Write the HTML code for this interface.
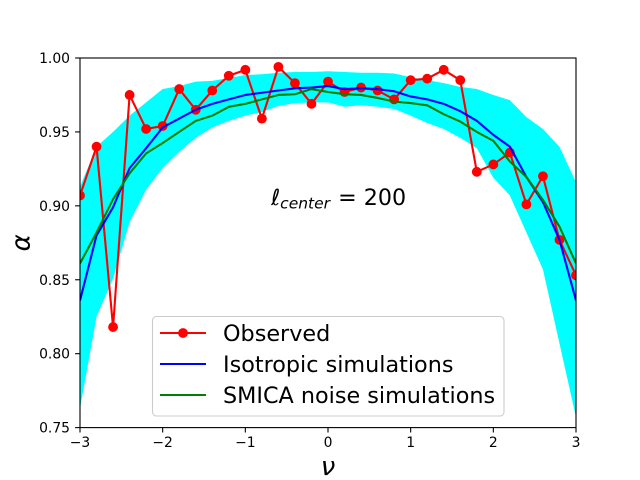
<!DOCTYPE html>
<html>
<head>
<meta charset="utf-8">
<style>
html,body{margin:0;padding:0;background:#fff;}
svg{display:block;font-family:"DejaVu Sans","Liberation Sans",sans-serif;}
</style>
</head>
<body>
<svg id="chart" xmlns="http://www.w3.org/2000/svg" width="640" height="480" viewBox="0 0 640 480">
<defs><clipPath id="plot-clip"><rect x="80" y="58" width="496" height="369.6"/></clipPath></defs>
<rect x="0" y="0" width="640" height="480" fill="#fff"/>
<g id="marks" clip-path="url(#plot-clip)"></g>
<g id="axes"></g>
<text x="328" y="475" font-size="26" font-style="italic" text-anchor="middle" fill="#000">ν</text>
<text transform="translate(29.5,242.8) rotate(-90)" font-size="26" font-style="italic" text-anchor="middle" fill="#000">α</text>
<text x="271" y="205" font-size="22.2" fill="#000"><tspan font-style="italic">ℓ</tspan><tspan font-style="italic" font-size="15.5" dy="3.5">center</tspan><tspan dy="-3.5" dx="1" xml:space="preserve"> = 200</tspan></text>
<g>
<rect x="152.5" y="316.5" width="351.5" height="99.5" rx="4" ry="4" fill="#fff" fill-opacity="0.8" stroke="#ccc" stroke-width="1.1"/>
<line x1="160" y1="333" x2="206" y2="333" stroke="#f00" stroke-width="2.1"/>
<circle cx="183" cy="333" r="4.9" fill="#f00"/>
<text x="223" y="341" font-size="22.3" fill="#000">Observed</text>
<line x1="160" y1="364" x2="206" y2="364" stroke="#00f" stroke-width="2.1"/>
<text x="223" y="372" font-size="22.3" fill="#000">Isotropic simulations</text>
<line x1="160" y1="395" x2="206" y2="395" stroke="#008000" stroke-width="2.1"/>
<text x="223" y="403" font-size="22.3" fill="#000">SMICA noise simulations</text>
</g>
</svg>
<script>
const nu = [-3,-2.8,-2.6,-2.4,-2.2,-2,-1.8,-1.6,-1.4,-1.2,-1,-0.8,-0.6,-0.4,-0.2,0,0.2,0.4,0.6,0.8,1,1.2,1.4,1.6,1.8,2,2.2,2.4,2.6,2.8,3];
const observed = [0.907,0.940,0.818,0.975,0.952,0.954,0.979,0.965,0.978,0.988,0.992,0.959,0.994,0.983,0.969,0.984,0.977,0.980,0.978,0.972,0.985,0.986,0.992,0.985,0.923,0.928,0.936,0.901,0.920,0.877,0.853];
const isotropic = [0.836,0.880,0.899,0.9255,0.939,0.953,0.959,0.965,0.969,0.972,0.975,0.9765,0.978,0.9795,0.980,0.981,0.979,0.9795,0.979,0.9775,0.974,0.972,0.969,0.964,0.9575,0.948,0.940,0.9195,0.9025,0.877,0.836];
const smica = [0.861,0.882,0.9045,0.922,0.9355,0.9425,0.950,0.9575,0.961,0.967,0.969,0.972,0.975,0.9755,0.979,0.977,0.9755,0.975,0.973,0.9705,0.9695,0.968,0.962,0.957,0.950,0.944,0.930,0.9195,0.904,0.886,0.861];
const bandUpper = [0.913,0.940,0.950,0.961,0.970,0.979,0.981,0.984,0.9845,0.9865,0.9885,0.989,0.990,0.9905,0.9905,0.991,0.9905,0.990,0.990,0.9895,0.987,0.985,0.983,0.9805,0.979,0.975,0.9715,0.960,0.952,0.940,0.916];
const bandLower = [0.763,0.825,0.851,0.889,0.911,0.9255,0.9365,0.946,0.953,0.9575,0.961,0.9635,0.9675,0.9695,0.970,0.970,0.967,0.968,0.967,0.9655,0.961,0.956,0.952,0.946,0.939,0.919,0.907,0.882,0.857,0.807,0.757];
const xTicks = [-3,-2,-1,0,1,2,3];
const xTickLabels = ["−3","−2","−1","0","1","2","3"];
const yTicks = [0.75,0.80,0.85,0.90,0.95,1.00];
const yTickLabels = ["0.75","0.80","0.85","0.90","0.95","1.00"];

const NS = "http://www.w3.org/2000/svg";
const xScale = v => 80 + (v + 3) / 6 * 496;
const yScale = v => 58 + (1 - v) / 0.25 * 369.6;
const make = (tag, attrs) => {
  const el = document.createElementNS(NS, tag);
  for (const k in attrs) el.setAttribute(k, attrs[k]);
  return el;
};
const marks = document.getElementById("marks");
const axes = document.getElementById("axes");
const pts = ys => nu.map((n, i) => xScale(n).toFixed(2) + "," + yScale(ys[i]).toFixed(2));

const band = make("polygon", {points: pts(bandUpper).concat(pts(bandLower).reverse()).join(" "), fill: "#00ffff"});


marks.appendChild(band);

const obsLine = make("polyline", {points: pts(observed).join(" "), fill: "none", stroke: "#f00", "stroke-width": 2.1, "stroke-linejoin": "round"});


marks.appendChild(obsLine);

observed.forEach((v, i) => {
  const c = make("circle", {cx: xScale(nu[i]), cy: yScale(v), r: 4.9, fill: "#f00"});
  
  
  marks.appendChild(c);
});

const isoLine = make("polyline", {points: pts(isotropic).join(" "), fill: "none", stroke: "#00f", "stroke-width": 2.1, "stroke-linejoin": "round"});


marks.appendChild(isoLine);

const smicaLine = make("polyline", {points: pts(smica).join(" "), fill: "none", stroke: "#008000", "stroke-width": 2.1, "stroke-linejoin": "round"});


marks.appendChild(smicaLine);

const frame = make("rect", {x: 80, y: 58, width: 496, height: 369.6, fill: "none", stroke: "#000", "stroke-width": 1.1});


axes.appendChild(frame);

xTicks.forEach((t, i) => {
  const x = xScale(t);
  const tick = make("line", {x1: x, y1: 427.6, x2: x, y2: 432.5, stroke: "#000", "stroke-width": 1.1});
  
  
  axes.appendChild(tick);
  const label = make("text", {x: x, y: 447, "font-size": 13.9, "text-anchor": "middle", fill: "#000"});
  
  
  label.textContent = xTickLabels[i];
  axes.appendChild(label);
});

yTicks.forEach((t, i) => {
  const y = yScale(t);
  const tick = make("line", {x1: 75.1, y1: y, x2: 80, y2: y, stroke: "#000", "stroke-width": 1.1});
  
  
  axes.appendChild(tick);
  const label = make("text", {x: 70, y: y + 5, "font-size": 13.9, "text-anchor": "end", fill: "#000"});
  
  
  label.textContent = yTickLabels[i];
  axes.appendChild(label);
});
</script>
</body>
</html>
